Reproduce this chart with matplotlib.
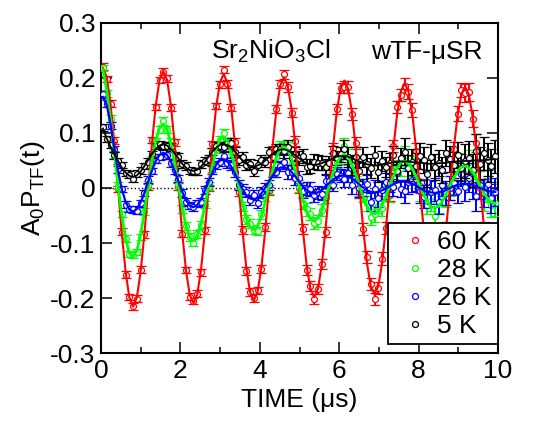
import matplotlib
matplotlib.use('Agg')
import matplotlib.pyplot as plt
import numpy as np
from matplotlib.lines import Line2D
from matplotlib.ticker import MultipleLocator

plt.rcParams['font.family'] = ['Liberation Sans', 'DejaVu Sans']
plt.rcParams['mathtext.fontset'] = 'custom'
plt.rcParams['mathtext.rm'] = 'Liberation Sans'
plt.rcParams['mathtext.it'] = 'Liberation Sans'
plt.rcParams['mathtext.default'] = 'regular'

# time bins (us)
time = [0.05, 0.145, 0.24, 0.335, 0.43, 0.525, 0.62, 0.715, 0.81, 0.905,
        1.0, 1.095, 1.19, 1.285, 1.38, 1.475, 1.57, 1.665, 1.76, 1.855,
        1.95, 2.045, 2.14, 2.235, 2.33, 2.425, 2.52, 2.615, 2.71, 2.805,
        2.9, 2.995, 3.09, 3.185, 3.28, 3.375, 3.47, 3.565, 3.66, 3.755,
        3.85, 3.945, 4.04, 4.135, 4.23, 4.325, 4.42, 4.515, 4.61, 4.705,
        4.8, 4.895, 4.99, 5.085, 5.18, 5.275, 5.37, 5.465, 5.56, 5.655,
        5.75, 5.845, 5.94, 6.035, 6.13, 6.225, 6.32, 6.415, 6.51, 6.605,
        6.7, 6.795, 6.89, 6.985, 7.08, 7.175, 7.27, 7.365, 7.46, 7.555,
        7.65, 7.745, 7.84, 7.935, 8.03, 8.125, 8.22, 8.315, 8.41, 8.505,
        8.6, 8.695, 8.79, 8.885, 8.98, 9.075, 9.17, 9.265, 9.36, 9.455,
        9.55, 9.645, 9.74, 9.835, 9.93]

# 60 K
red_data = [0.220, 0.198, 0.153, 0.086, -0.002, -0.079, -0.157, -0.198, -0.215, -0.201,
            -0.148, -0.084, 0.002, 0.087, 0.147, 0.196, 0.211, 0.199, 0.146, 0.083,
            0.003, -0.083, -0.149, -0.197, -0.205, -0.192, -0.153, -0.077, 0.000, 0.079,
            0.149, 0.188, 0.215, 0.189, 0.146, 0.084, -0.008, -0.076, -0.150, -0.189,
            -0.199, -0.186, -0.147, -0.071, -0.005, 0.070, 0.143, 0.189, 0.206, 0.183,
            0.137, 0.085, 0.000, -0.074, -0.149, -0.178, -0.201, -0.183, -0.138, -0.080,
            0.008, 0.073, 0.144, 0.181, 0.183, 0.184, 0.134, 0.082, -0.008, -0.074,
            -0.125, -0.174, -0.201, -0.182, -0.128, -0.073, -0.012, 0.077, 0.147, 0.168,
            0.186, 0.175, 0.142, 0.068, 0.004, -0.084, -0.125, -0.173, -0.195, -0.168,
            -0.120, -0.075, -0.008, 0.071, 0.135, 0.178, 0.172, 0.174, 0.126, 0.082,
            0.000, -0.078, -0.121, -0.172, -0.177]
red_fit = [0.218, 0.201, 0.153, 0.083, 0.0, -0.083, -0.152, -0.199, -0.215, -0.198,
           -0.151, -0.082, 0.0, 0.082, 0.150, 0.196, 0.212, 0.196, 0.150, 0.081,
           0.0, -0.081, -0.149, -0.194, -0.209, -0.193, -0.148, -0.080, 0.0, 0.080,
           0.147, 0.191, 0.207, 0.191, 0.146, 0.079, 0.0, -0.078, -0.145, -0.189,
           -0.204, -0.188, -0.144, -0.078, 0.0, 0.077, 0.143, 0.186, 0.201, 0.185,
           0.142, 0.077, 0.0, -0.076, -0.141, -0.183, -0.198, -0.183, -0.140, -0.075,
           0.0, 0.075, 0.139, 0.181, 0.195, 0.180, 0.138, 0.074, 0.0, -0.074,
           -0.137, -0.178, -0.193, -0.178, -0.136, -0.073, 0.0, 0.073, 0.135, 0.176,
           0.190, 0.175, 0.134, 0.072, 0.0, -0.072, -0.133, -0.173, -0.187, -0.172,
           -0.132, -0.071, 0.0, 0.071, 0.131, 0.170, 0.184, 0.170, 0.130, 0.070,
           0.0, -0.070, -0.129, -0.168, -0.181]

# 28 K
green_data = [0.218, 0.172, 0.126, 0.061, 0.004, -0.047, -0.092, -0.120, -0.121, -0.116,
              -0.089, -0.043, 0.006, 0.052, 0.085, 0.106, 0.121, 0.106, 0.083, 0.041,
              0.007, -0.038, -0.069, -0.089, -0.099, -0.083, -0.067, -0.030, 0.004, 0.036,
              0.071, 0.087, 0.099, 0.079, 0.065, 0.046, 0.007, -0.034, -0.057, -0.065,
              -0.076, -0.078, -0.048, -0.016, -0.002, 0.029, 0.056, 0.077, 0.072, 0.072,
              0.044, 0.036, 0.004, -0.027, -0.039, -0.047, -0.063, -0.060, -0.040, -0.016,
              0.010, 0.018, 0.048, 0.054, 0.076, 0.056, 0.033, 0.035, -0.001, -0.011,
              -0.028, -0.053, -0.047, -0.032, -0.036, 0.000, -0.011, 0.027, 0.037, 0.036,
              0.059, 0.040, 0.040, 0.036, -0.006, -0.012, -0.030, -0.024, -0.051, -0.028,
              -0.014, -0.016, 0.004, 0.008, 0.045, 0.043, 0.025, 0.047, 0.029, 0.012,
              0.009, -0.019, -0.004, -0.031, -0.028]
green_fit = [0.215, 0.176, 0.124, 0.064, 0.004, -0.050, -0.093, -0.118, -0.125, -0.113,
             -0.084, -0.043, 0.004, 0.049, 0.086, 0.109, 0.116, 0.106, 0.081, 0.045,
             0.004, -0.036, -0.069, -0.090, -0.096, -0.087, -0.065, -0.033, 0.004, 0.040,
             0.069, 0.088, 0.093, 0.085, 0.065, 0.037, 0.004, -0.028, -0.054, -0.071,
             -0.076, -0.069, -0.051, -0.025, 0.004, 0.032, 0.056, 0.071, 0.075, 0.069,
             0.053, 0.030, 0.004, -0.021, -0.042, -0.056, -0.060, -0.054, -0.040, -0.019,
             0.004, 0.027, 0.045, 0.057, 0.061, 0.056, 0.043, 0.025, 0.004, -0.016,
             -0.033, -0.043, -0.047, -0.042, -0.031, -0.015, 0.004, 0.022, 0.037, 0.046,
             0.049, 0.045, 0.035, 0.021, 0.004, -0.012, -0.025, -0.034, -0.036, -0.033,
             -0.024, -0.011, 0.004, 0.018, 0.030, 0.038, 0.040, 0.037, 0.029, 0.017,
             0.004, -0.009, -0.019, -0.026, -0.028]

# 26 K
blue_data = [0.170, 0.153, 0.113, 0.071, 0.034, -0.002, -0.030, -0.038, -0.039, -0.041,
             -0.028, -0.009, 0.015, 0.031, 0.051, 0.056, 0.067, 0.060, 0.045, 0.033,
             0.017, -0.009, -0.025, -0.032, -0.034, -0.028, -0.025, -0.004, 0.011, 0.033,
             0.042, 0.047, 0.058, 0.045, 0.042, 0.029, 0.006, -0.002, -0.007, -0.022,
             -0.012, -0.027, -0.007, 0.000, 0.006, 0.029, 0.029, 0.040, 0.047, 0.029,
             0.029, 0.018, 0.018, -0.006, -0.001, -0.002, -0.013, -0.008, -0.010, 0.012,
             0.012, 0.006, 0.026, 0.022, 0.017, 0.027, 0.005, 0.030, 0.000, 0.001,
             0.008, -0.025, -0.002, -0.019, -0.004, 0.011, 0.009, 0.001, 0.028, -0.001,
             -0.006, 0.010, 0.014, 0.016, -0.006, -0.016, 0.011, -0.008, -0.003, -0.026,
             0.006, -0.009, 0.000, 0.009, -0.006, 0.025, 0.002, 0.019, 0.006, -0.015,
             0.006, -0.009, 0.007, -0.019, -0.007]
blue_fit = [0.165, 0.151, 0.116, 0.072, 0.031, -0.002, -0.025, -0.039, -0.043, -0.038,
            -0.026, -0.009, 0.012, 0.032, 0.049, 0.060, 0.064, 0.060, 0.048, 0.031,
            0.012, -0.007, -0.022, -0.032, -0.035, -0.031, -0.020, -0.005, 0.012, 0.028,
            0.042, 0.050, 0.052, 0.048, 0.039, 0.026, 0.012, -0.002, -0.013, -0.019,
            -0.021, -0.018, -0.010, 0.000, 0.012, 0.023, 0.032, 0.037, 0.038, 0.035,
            0.029, 0.021, 0.012, 0.003, -0.004, -0.008, -0.010, -0.008, -0.004, 0.003,
            0.009, 0.015, 0.020, 0.022, 0.023, 0.021, 0.017, 0.012, 0.006, 0.001,
            -0.004, -0.007, -0.008, -0.007, -0.004, -0.001, 0.003, 0.007, 0.010, 0.011,
            0.012, 0.010, 0.008, 0.004, 0.000, -0.004, -0.007, -0.008, -0.009, -0.008,
            -0.006, -0.003, 0.000, 0.003, 0.006, 0.007, 0.008, 0.007, 0.006, 0.003,
            0.000, -0.003, -0.005, -0.007, -0.007]

# 5 K
black_data = [0.110, 0.089, 0.078, 0.059, 0.049, 0.042, 0.027, 0.024, 0.016, 0.026,
              0.032, 0.040, 0.048, 0.061, 0.076, 0.079, 0.076, 0.077, 0.074, 0.059,
              0.056, 0.043, 0.040, 0.032, 0.030, 0.030, 0.044, 0.049, 0.053, 0.066,
              0.076, 0.077, 0.074, 0.081, 0.082, 0.066, 0.051, 0.056, 0.041, 0.043,
              0.030, 0.041, 0.050, 0.047, 0.065, 0.056, 0.070, 0.070, 0.067, 0.074,
              0.055, 0.062, 0.054, 0.058, 0.039, 0.040, 0.048, 0.046, 0.045, 0.039,
              0.045, 0.063, 0.054, 0.061, 0.070, 0.057, 0.042, 0.057, 0.030, 0.057,
              0.043, 0.036, 0.059, 0.029, 0.049, 0.038, 0.045, 0.059, 0.030, 0.054,
              0.066, 0.036, 0.047, 0.040, 0.058, 0.051, 0.026, 0.056, 0.038, 0.045,
              0.033, 0.064, 0.053, 0.042, 0.060, 0.037, 0.049, 0.055, 0.032, 0.068,
              0.044, 0.063, 0.051, 0.040, 0.058]
black_fit = [0.108, 0.090, 0.075, 0.062, 0.049, 0.037, 0.028, 0.022, 0.020, 0.023,
             0.030, 0.040, 0.051, 0.062, 0.071, 0.077, 0.079, 0.077, 0.071, 0.063,
             0.054, 0.044, 0.037, 0.032, 0.031, 0.033, 0.039, 0.047, 0.057, 0.066,
             0.073, 0.078, 0.080, 0.078, 0.073, 0.066, 0.057, 0.050, 0.044, 0.040,
             0.039, 0.041, 0.044, 0.050, 0.056, 0.062, 0.067, 0.070, 0.070, 0.068,
             0.064, 0.059, 0.054, 0.049, 0.045, 0.043, 0.042, 0.043, 0.045, 0.048,
             0.051, 0.054, 0.057, 0.058, 0.058, 0.057, 0.054, 0.051, 0.048, 0.045,
             0.043, 0.042, 0.041, 0.041, 0.043, 0.044, 0.045, 0.047, 0.048, 0.048,
             0.048, 0.048, 0.047, 0.046, 0.046, 0.045, 0.044, 0.044, 0.044, 0.045,
             0.045, 0.046, 0.047, 0.048, 0.048, 0.049, 0.049, 0.049, 0.050, 0.050,
             0.050, 0.051, 0.051, 0.052, 0.052]

# error bar size, one value per 16 bins (grows with time)
red_err = [0.006, 0.006, 0.007, 0.009, 0.011, 0.013, 0.016]
green_err = [0.006, 0.007, 0.008, 0.011, 0.014, 0.018, 0.022]
blue_err = [0.006, 0.007, 0.009, 0.012, 0.016, 0.021, 0.026]
black_err = [0.006, 0.007, 0.009, 0.013, 0.018, 0.024, 0.030]

labels = ['60 K', '28 K', '26 K', '5 K']
colors = ['#ff0000', '#00ff00', '#0000ff', '#000000']
datas = [red_data, green_data, blue_data, black_data]
fits = [red_fit, green_fit, blue_fit, black_fit]
errs = [red_err, green_err, blue_err, black_err]

fig = plt.figure(figsize=(5.38, 4.28), dpi=100)
ax = fig.add_axes([0.1877, 0.1745, 0.738, 0.7725])

ax.axhline(0, color='k', lw=1.0, ls=':', zorder=0)

n = len(time)
for i in range(4):
    e = np.repeat(errs[i], 16)[:n]
    ax.errorbar(time, datas[i], yerr=e, fmt='o', ms=4.3, mfc='white',
                mec=colors[i], mew=0.9, ecolor=colors[i], elinewidth=1.4,
                capsize=3.3, capthick=1.4, zorder=2 + i)

lws = [1.5, 2.0, 1.6, 1.3]
for i in range(4):
    ax.plot(time, fits[i], color=colors[i], lw=lws[i], zorder=7 + i)

ax.set_xlim(0, 10)
ax.set_ylim(-0.3, 0.3)
ax.xaxis.set_major_locator(MultipleLocator(2))
ax.xaxis.set_minor_locator(MultipleLocator(1))
ax.set_yticks([-0.3, -0.2, -0.1, 0, 0.1, 0.2, 0.3])
ax.set_yticklabels(['-0.3', '-0.2', '-0.1', '0', '0.1', '0.2', '0.3'])
ax.tick_params(which='both', direction='in', top=True, right=True,
               labelsize=19, width=1.1)
ax.tick_params(which='major', length=8)
ax.tick_params(which='minor', length=4)
ax.tick_params(axis='x', pad=4)
ax.tick_params(axis='y', pad=4)
for sp in ax.spines.values():
    sp.set_linewidth(1.5)

ax.set_xlabel('TIME (\u03bcs)', fontsize=19, labelpad=4)
ax.set_ylabel('A$_0$P$_{TF}$(t)', fontsize=19, labelpad=2)

ax.text(2.77, 0.235, 'Sr$_2$NiO$_3$Cl', fontsize=19, ha='left', va='baseline')
ax.text(6.8, 0.235, 'wTF-\u03bcSR', fontsize=19, ha='left', va='baseline')

handles = [Line2D([], [], ls='none', marker='o', ms=4.3, mfc='white',
                  mec=c, mew=0.9) for c in colors]
leg = ax.legend(handles, labels, loc='lower right', bbox_to_anchor=(1.0, 0.027),
                borderaxespad=0, fontsize=19, frameon=True, fancybox=False,
                framealpha=1, edgecolor='black', borderpad=0.25,
                handlelength=1.5, handletextpad=0.1, labelspacing=0.15)
leg.get_frame().set_linewidth(1.3)
leg.set_zorder(20)

fig.savefig('out.png', dpi=100)
